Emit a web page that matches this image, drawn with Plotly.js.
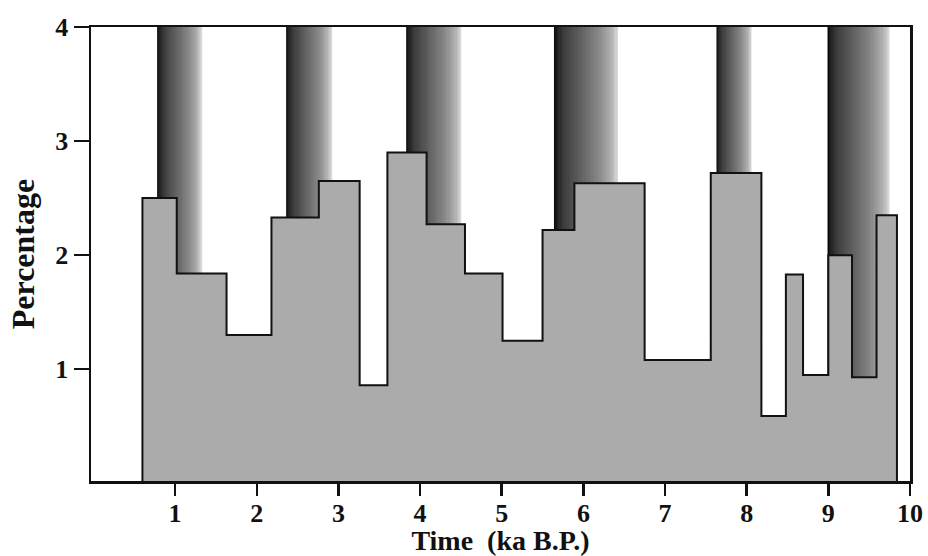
<!DOCTYPE html>
<html>
<head>
<meta charset="utf-8">
<script src="https://cdn.plot.ly/plotly-3.0.1.min.js"></script>
<style>html,body{margin:0;padding:0;background:#fff;}#chart{width:928px;height:556px;}</style>
</head>
<body>
<div id="chart"></div>
<script>
// Step histogram: bin edges (ka B.P.) and percentages
const binEdges = [0.60, 1.02, 1.63, 2.18, 2.76, 3.26, 3.60, 4.08, 4.55, 5.01, 5.50, 5.89, 6.75, 7.56, 8.18, 8.48, 8.69, 9.00, 9.29, 9.59, 9.84];
const percentages = [2.50, 1.84, 1.30, 2.33, 2.65, 0.86, 2.90, 2.27, 1.84, 1.25, 2.22, 2.63, 1.08, 2.72, 0.59, 1.83, 0.95, 2.00, 0.93, 2.35];
// Shaded (gradient) event bands
const bandStart = [0.78, 2.36, 3.83, 5.64, 7.63, 8.99];
const bandEnd   = [1.33, 2.92, 4.50, 6.42, 8.06, 9.75];
const xTickVals = [1, 2, 3, 4, 5, 6, 7, 8, 9, 10];
const xTickText = ['1', '2', '3', '4', '5', '6', '7', '8', '9', '10'];
const yTickVals = [1, 2, 3, 4];
const yTickText = ['1', '2', '3', '4'];

const FONT = 'Liberation Serif, Times New Roman, serif';
const traces = [];

// gradient bands as heatmaps
const NCOL = 48;
const gradScale = [[0, '#000000'], [0.04, '#1e1e1e'], [0.15, '#3c3c3c'], [0.4, '#5e5e5e'], [0.7, '#888888'], [0.9, '#b2b2b2'], [1, '#dedede']];
for (let b = 0; b < bandStart.length; b++) {
  const xs = [], zr = [];
  for (let k = 0; k <= NCOL; k++) xs.push(bandStart[b] + (bandEnd[b] - bandStart[b]) * k / NCOL);
  for (let k = 0; k < NCOL; k++) zr.push((k + 0.5) / NCOL);
  traces.push({
    type: 'heatmap', x: xs, y: [0, 4], z: [zr],
    colorscale: gradScale, zmin: 0, zmax: 1, showscale: false,
    hoverinfo: 'skip', zsmooth: false
  });
}

// step outline with fill
const sx = [binEdges[0]], sy = [0];
for (let i = 0; i < percentages.length; i++) { sx.push(binEdges[i]); sy.push(percentages[i]); }
sx.push(binEdges[binEdges.length - 1]); sy.push(0);
traces.push({
  type: 'scatter', mode: 'lines', x: sx, y: sy,
  line: {shape: 'hv', color: '#111111', width: 2},
  fill: 'tozeroy', fillcolor: '#ababab', hoverinfo: 'skip'
});

const layout = {
  width: 928, height: 556,
  margin: {l: 91, r: 18, t: 27, b: 75},
  paper_bgcolor: '#ffffff', plot_bgcolor: '#ffffff',
  showlegend: false,
  font: {family: FONT, color: '#111111'},
  xaxis: {
    range: [-0.03, 10.0], tickvals: xTickVals, ticktext: xTickText,
    showgrid: false, zeroline: false, showline: true, mirror: true,
    linecolor: '#111111', linewidth: 2.5,
    ticks: 'outside', ticklen: 12, tickwidth: 2.5, tickcolor: '#111111',
    ticklabelstandoff: -5,
    tickfont: {family: FONT, size: 26, color: '#111111', weight: 'bold'},
    title: {text: 'Time\u00a0\u00a0(ka B.P.)', font: {family: FONT, size: 28, color: '#111111', weight: 'bold'}, standoff: 0}
  },
  yaxis: {
    range: [0.02, 4.0], tickvals: yTickVals, ticktext: yTickText,
    showgrid: false, zeroline: false, showline: true, mirror: true,
    linecolor: '#111111', linewidth: 2.5,
    ticks: 'outside', ticklen: 15, tickwidth: 2.5, tickcolor: '#111111',
    tickfont: {family: FONT, size: 26, color: '#111111', weight: 'bold'},
    title: {text: 'Percentage', font: {family: FONT, size: 32, color: '#111111', weight: 'bold'}, standoff: 11}
  }
};

Plotly.newPlot('chart', traces, layout, {displayModeBar: false, staticPlot: true});
</script>
</body>
</html>
